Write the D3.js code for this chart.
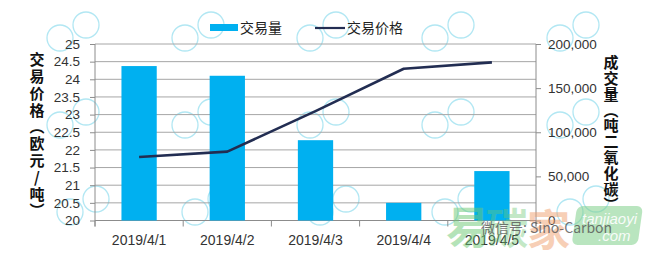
<!DOCTYPE html>
<html>
<head>
<meta charset="utf-8">
<script src="https://cdn.jsdelivr.net/npm/d3@7"></script>
<style>
  html, body { margin: 0; padding: 0; background: #fff; }
  svg { display: block; }
</style>
</head>
<body>
<svg id="chart" width="652" height="256"></svg>
<script>
// Daily EUA trading: volume (bars, right axis) and price (line, left axis)
const dates = ["2019/4/1", "2019/4/2", "2019/4/3", "2019/4/4", "2019/4/5"];
const volume = [175000, 164000, 91000, 20000, 56000];
const price = [21.8, 21.95, 23.1, 24.3, 24.48];
const priceTicks = [20, 20.5, 21, 21.5, 22, 22.5, 23, 23.5, 24, 24.5, 25];
const volumeTicks = [0, 50000, 100000, 150000, 200000];
const legendLabels = ["交易量", "交易价格"];
const leftTitle = "交易价格（欧元/吨）";
const rightTitle = "成交量（吨二氧化碳）";

const svg = d3.select("#chart");
const plotLeft = 95, plotRight = 536, plotTop = 44, plotBottom = 220.5;
const numFont = "'Liberation Sans', Arial, sans-serif";
const cjkFont = "'Noto Sans CJK SC', sans-serif";
const barColor = "#00b0f0", lineColor = "#222d52", gridColor = "#a6a6a6";

// faint background watermark: pairs of rings
const wm = svg.append("g").attr("opacity", 0.6);
const rows = [[38, 60], [125, 185], [212, 70]];
rows.forEach(([cy, x0]) => {
  for (let cx = x0 - 250; cx < 700; cx += 125) {
    [[0, 0], [26, -13]].forEach(([dx, dy]) => {
      wm.append("circle").attr("cx", cx + dx).attr("cy", cy + dy).attr("r", 13)
        .attr("fill", "none").attr("stroke", "#7fd8ec").attr("stroke-width", 1.3);
    });
  }
});

const x = d3.scaleBand().domain(dates).range([plotLeft, plotRight]).paddingInner(0.6).paddingOuter(0.3);
const yL = d3.scaleLinear().domain([20, 25]).range([plotBottom, plotTop]);
const yR = d3.scaleLinear().domain([0, 200000]).range([plotBottom, plotTop]);

// horizontal gridlines at the price ticks
svg.append("g").selectAll("line").data(priceTicks).join("line")
  .attr("x1", plotLeft).attr("x2", plotRight)
  .attr("y1", d => yL(d)).attr("y2", d => yL(d))
  .attr("stroke", gridColor).attr("stroke-width", 1);

// left axis
const leftAxis = svg.append("g").attr("transform", `translate(${plotLeft},0)`)
  .call(d3.axisLeft(yL).tickValues(priceTicks).tickSize(5).tickPadding(10)
    .tickFormat(d => String(d)));
leftAxis.select(".domain").attr("stroke", "#8c8c8c").attr("d", `M0,${plotTop}V${plotBottom + 6}`);
leftAxis.selectAll(".tick line").attr("stroke", "#8c8c8c");
leftAxis.selectAll(".tick text").attr("font-family", numFont).attr("font-size", 13.5).attr("fill", "#333");

// right axis
const rightAxis = svg.append("g").attr("transform", `translate(${plotRight},0)`)
  .call(d3.axisRight(yR).tickValues(volumeTicks).tickSize(5).tickPadding(7)
    .tickFormat(d3.format(",")));
rightAxis.select(".domain").attr("stroke", "#8c8c8c").attr("d", `M0,${plotTop}V${plotBottom + 6}`);
rightAxis.selectAll(".tick line").attr("stroke", "#8c8c8c");
rightAxis.selectAll(".tick text").attr("font-family", numFont).attr("font-size", 13.5).attr("fill", "#333");

// bottom axis with ticks between categories
const step = x.step();
const bottomAxis = svg.append("g");
bottomAxis.append("line").attr("x1", plotLeft).attr("x2", plotRight).attr("y1", plotBottom).attr("y2", plotBottom)
  .attr("stroke", "#8c8c8c");
bottomAxis.selectAll("line.sep").data(d3.range(dates.length + 1)).join("line").attr("class", "sep")
  .attr("x1", i => plotLeft + i * step).attr("x2", i => plotLeft + i * step)
  .attr("y1", plotBottom).attr("y2", plotBottom + 6).attr("stroke", "#8c8c8c");
bottomAxis.selectAll("text").data(dates).join("text")
  .attr("x", d => x(d) + x.bandwidth() / 2).attr("y", 245)
  .attr("text-anchor", "middle").attr("font-family", numFont).attr("font-size", 14)
  .attr("fill", "#333").text(d => d);

// volume bars
svg.append("g").selectAll("rect").data(dates).join("rect")
  .attr("x", d => x(d)).attr("width", x.bandwidth())
  .attr("y", (d, i) => yR(volume[i])).attr("height", (d, i) => plotBottom - yR(volume[i]))
  .attr("fill", barColor);

// price line
const line = d3.line().x((d, i) => x(dates[i]) + x.bandwidth() / 2).y(d => yL(d));
svg.append("path").datum(price).attr("d", line)
  .attr("fill", "none").attr("stroke", lineColor).attr("stroke-width", 2.6)
  .attr("stroke-linejoin", "round");

// vertical axis titles
svg.append("text").attr("x", 37).attr("y", 136)
  .style("writing-mode", "vertical-rl").style("text-orientation", "upright")
  .attr("text-anchor", "middle").attr("font-family", cjkFont).attr("font-weight", "bold")
  .attr("font-size", 15).attr("letter-spacing", 1.8).attr("fill", "#111").text(leftTitle);
svg.append("text").attr("x", 611).attr("y", 134)
  .style("writing-mode", "vertical-rl").style("text-orientation", "upright")
  .attr("text-anchor", "middle").attr("font-family", cjkFont).attr("font-weight", "bold")
  .attr("font-size", 15).attr("letter-spacing", 0.8).attr("fill", "#111").text(rightTitle);

// legend
const lg = svg.append("g");
lg.append("rect").attr("x", 210).attr("y", 24).attr("width", 28).attr("height", 7).attr("fill", barColor);
lg.append("text").attr("x", 240).attr("y", 33).attr("font-family", cjkFont).attr("font-size", 14)
  .attr("fill", "#222").text(legendLabels[0]);
lg.append("line").attr("x1", 315).attr("x2", 345).attr("y1", 28).attr("y2", 28)
  .attr("stroke", lineColor).attr("stroke-width", 2.2);
lg.append("text").attr("x", 347).attr("y", 33).attr("font-family", cjkFont).attr("font-size", 14)
  .attr("fill", "#222").text(legendLabels[1]);

// publisher mark in the lower right corner
const pm = svg.append("g");
pm.append("text").attr("x", 446).attr("y", 244).attr("font-family", cjkFont).attr("font-weight", "bold")
  .attr("font-size", 44).attr("fill", "#6cc873").attr("opacity", 0.5).text("易");
pm.append("text").attr("x", 486).attr("y", 244).attr("font-family", cjkFont).attr("font-weight", "bold")
  .attr("font-size", 42).attr("fill", "#6cc873").attr("opacity", 0.4).text("碳");
pm.append("text").attr("x", 527).attr("y", 246).attr("font-family", cjkFont).attr("font-weight", "bold")
  .attr("font-size", 43).attr("fill", "#f0a070").attr("opacity", 0.5).text("家");
pm.append("rect").attr("x", 575).attr("y", 206).attr("width", 66).attr("height", 39).attr("rx", 6)
  .attr("transform", "skewX(-8) translate(31,0)")
  .attr("fill", "#7fd08a").attr("opacity", 0.55);
pm.append("text").attr("x", 582).attr("y", 224).attr("font-family", numFont).attr("font-style", "italic")
  .attr("font-size", 15).attr("fill", "#fff").attr("opacity", 0.9).text("tanjiaoyi");
pm.append("text").attr("x", 598).attr("y", 241).attr("font-family", numFont).attr("font-style", "italic")
  .attr("font-size", 15).attr("fill", "#fff").attr("opacity", 0.9).text(".com");
pm.append("text").attr("x", 481).attr("y", 233).attr("font-family", cjkFont)
  .attr("font-size", 14).attr("fill", "#555").attr("opacity", 0.8).text("微信号: Sino-Carbon");
</script>
</body>
</html>
